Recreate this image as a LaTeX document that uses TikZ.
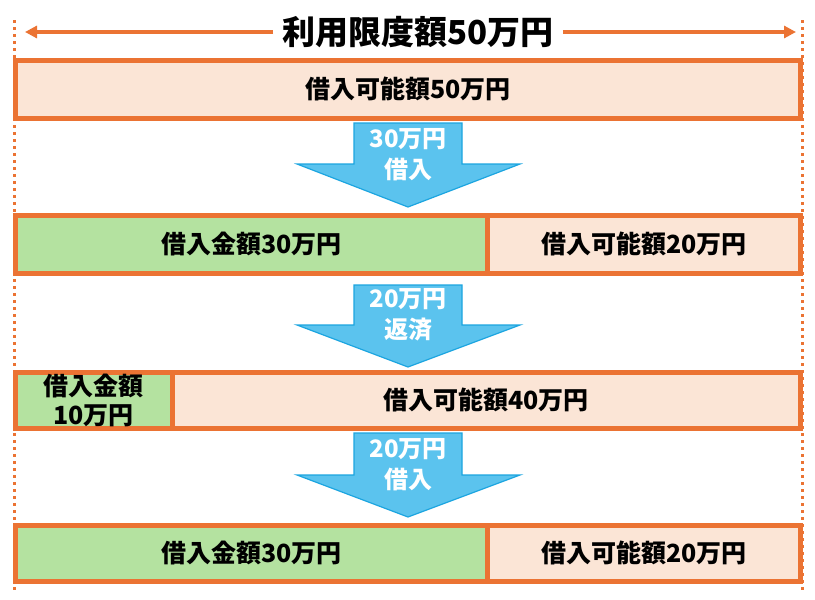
\documentclass[tikz,border=0pt]{standalone}
\usepackage{fontspec}
\setmainfont{Noto Sans CJK JP}
\usetikzlibrary{arrows.meta}
\definecolor{org}{HTML}{EB7333}
\definecolor{pk}{HTML}{FBE5D6}
\definecolor{gr}{HTML}{B4E2A0}
\definecolor{bl}{HTML}{5BC3EE}
\definecolor{bld}{HTML}{1CA5E0}
\tikzset{
  box/.style={draw=org, line width=5pt, inner sep=0pt, minimum height=58pt, font=\bfseries\fontsize{25}{29}\selectfont, align=center},
  pinkbox/.style={box, fill=pk},
  greenbox/.style={box, fill=gr},
  bigarrow/.style={fill=bl, draw=bld, line width=1.2pt, line join=miter},
  arrowtext/.style={text=white, font=\bfseries\fontsize{24}{31}\selectfont, align=center, inner sep=0pt},
  guide/.style={draw=org, line width=3pt, dash pattern=on 3pt off 4pt},
  span/.style={draw=org, line width=3.5pt, -{Triangle[length=12pt,width=12pt]}}
}
\begin{document}
\begin{tikzpicture}[x=1pt,y=-1pt]
\useasboundingbox[fill=white] (0,0) rectangle (815,600);
% guides
\coordinate (gl1) at (14,20); \coordinate (gl2) at (14,590);
\coordinate (gr1) at (802,20); \coordinate (gr2) at (802,590);
\draw[guide] (gl1) -- (gl2);
\draw[guide] (gr1) -- (gr2);
% title
\node[font=\bfseries\fontsize{33}{38}\selectfont, inner sep=9pt] (title) at (418,32) {利用限度額50万円};
\coordinate (sl) at (25,32); \coordinate (sr) at (796,32);
\draw[span] (title.west) -- (sl);
\draw[span] (title.east) -- (sr);
% row 1
\node[pinkbox, minimum width=785pt] (b1) at (408,89) {借入可能額50万円};
% arrow 1
\draw[bigarrow] (354,123) -- (462,123) -- (462,164) -- (520,164) -- (408,207) -- (297,164) -- (354,164) -- cycle;
\node[arrowtext] (a1) at (408,155) {30万円\\借入};
% row 2
\node[greenbox, minimum width=472pt] (b2g) at (251.5,244) {借入金額30万円};
\node[pinkbox, minimum width=313pt] (b2p) at (644,244) {借入可能額20万円};
% arrow 2
\draw[bigarrow] (354,285) -- (462,285) -- (462,325) -- (520,325) -- (408,367) -- (297,325) -- (354,325) -- cycle;
\node[arrowtext] (a2) at (408,315) {20万円\\返済};
% row 3
\node[greenbox, minimum width=156.5pt, minimum height=56pt] (b3g) at (93.75,400) {借入金額\\10万円};
\node[pinkbox, minimum width=628.5pt, minimum height=56pt] (b3p) at (486.25,400) {借入可能額40万円};
% arrow 3
\draw[bigarrow] (354,433) -- (462,433) -- (462,475) -- (520,475) -- (408,517) -- (297,475) -- (354,475) -- cycle;
\node[arrowtext] (a3) at (408,465) {20万円\\借入};
% row 4
\node[greenbox, minimum width=472pt, minimum height=56pt] (b4g) at (251.5,553) {借入金額30万円};
\node[pinkbox, minimum width=313pt, minimum height=56pt] (b4p) at (644,553) {借入可能額20万円};
\end{tikzpicture}
\end{document}
